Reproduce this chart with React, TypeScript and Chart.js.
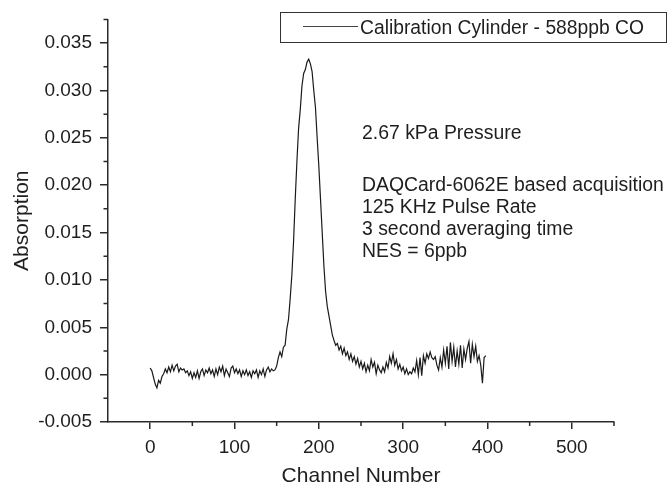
import React, { useEffect, useRef } from "react";
import { Chart, registerables } from "chart.js";

Chart.register(...registerables);

// Absorption values, one every 2 channels (channels 0..398)
const absorption = [
  0.0007, 0.0004, -0.0003, -0.001, -0.0014, -0.0006, -0.0009, -0.0002, 0.0001, 0.0006,
  0.0002, 0.0008, 0.0003, 0.001, 0.0004, 0.0009, 0.0011, 0.0003, 0.0007, 0.0005,
  0.0006, 0.0002, 0.0004, -0.0001, 0.0003, -0.0004, 0.0002, -0.0003, 0.0004, -0.0004,
  0.0003, 0.0006, -0.0001, 0.0005, 0.0002, 0.0007, 0.0001, 0.0005, -0.0002, 0.0006,
  0.0, 0.0008, 0.0003, 0.0009, -0.0001, 0.0006, 0.0002, -0.0002, 0.0007, 0.0009,
  0.0002, 0.0006, 0.0001, 0.0005, -0.0002, 0.0004, 0.0, 0.0005, -0.0001, 0.0003,
  -0.0003, 0.0004, 0.0001, 0.0005, -0.0003, 0.0004, 0.0, 0.0006, -0.0002, 0.0005,
  0.0008, 0.0003, 0.0006, 0.0004, 0.0005, 0.0009, 0.0018, 0.0024, 0.0019, 0.0029,
  0.0031, 0.0048, 0.0058, 0.008, 0.0105, 0.014, 0.0185, 0.0225, 0.026, 0.028,
  0.0305, 0.0318, 0.0322, 0.033, 0.0333, 0.0328, 0.032, 0.03, 0.0282, 0.025,
  0.022, 0.0185, 0.015, 0.0115, 0.0088, 0.0072, 0.0062, 0.0052, 0.0042, 0.0036,
  0.0031, 0.0033, 0.0026, 0.003, 0.0022, 0.0028, 0.002, 0.0024, 0.0016, 0.0022,
  0.0014, 0.0019, 0.0011, 0.0017, 0.0008, 0.0014, 0.0006, 0.0012, 0.0003, 0.001,
  0.0004, 0.0016, 0.0008, 0.0013, 0.0001, 0.001, 0.0005, 0.0002, 0.0008, 0.0003,
  0.0013, 0.0007, 0.0019, 0.0012, 0.0022, 0.001, 0.0016, 0.0006, 0.0011, 0.0004,
  0.0008, 0.0001, 0.0006, 0.0, 0.0003, 0.0001, 0.0007, 0.0003, 0.0015, 0.0,
  0.0018, -0.0001, 0.002, 0.0012, 0.0022, 0.0017, 0.0024, 0.0018, 0.0016, 0.0019,
  0.001, 0.0005, 0.0018, 0.0008, 0.0026, 0.0012, 0.003, 0.0006, 0.0034, 0.0014,
  0.0029, 0.0008, 0.0025, 0.0011, 0.0031, 0.0007, 0.0027, 0.0016, 0.0028, 0.0035,
  0.0012, 0.0032, 0.0019, 0.003, 0.0014, 0.002, 0.001, -0.0009, 0.0018, 0.002,
];
const channelStep = 2;
const channels = absorption.map((_, i) => i * channelStep);

const xMajorTicks = [0, 100, 200, 300, 400, 500];
const xMinorTicks = [50, 150, 250, 350, 450, 550];
const yMajorTicks = [-0.005, 0, 0.005, 0.01, 0.015, 0.02, 0.025, 0.03, 0.035];
const yMinorTicks = [-0.0025, 0.0025, 0.0075, 0.0125, 0.0175, 0.0225, 0.0275, 0.0325, 0.0375];

const seriesLabel = "Calibration Cylinder - 588ppb CO";
const annotationHeader = "2.67 kPa Pressure";
const annotationLines = [
  "DAQCard-6062E based acquisition",
  "125 KHz Pulse Rate",
  "3 second averaging time",
  "NES = 6ppb",
];
const xTitle = "Channel Number";
const yTitle = "Absorption";

const FONT = '"Liberation Sans", Arial, Helvetica, sans-serif';
const INK = "#1e1e1e";
const AXIS = "#2a2a2a";

const extrasPlugin = {
  id: "extras",
  afterDraw(chart: any) {
    const { ctx, scales } = chart;
    const x = scales.x;
    const y = scales.y;
    ctx.save();
    // minor ticks
    ctx.strokeStyle = AXIS;
    ctx.lineWidth = 1.5;
    ctx.beginPath();
    xMinorTicks.forEach((v) => {
      const px = x.getPixelForValue(v);
      ctx.moveTo(px, y.bottom);
      ctx.lineTo(px, y.bottom + 4);
    });
    yMinorTicks.forEach((v) => {
      const py = y.getPixelForValue(v);
      ctx.moveTo(x.left, py);
      ctx.lineTo(x.left - 4.5, py);
    });
    ctx.stroke();

    // legend box
    ctx.lineWidth = 1;
    ctx.strokeStyle = "#333";
    ctx.strokeRect(280.5, 12.5, 386, 30);
    ctx.beginPath();
    ctx.strokeStyle = "#444";
    ctx.moveTo(303, 26.5);
    ctx.lineTo(358, 26.5);
    ctx.stroke();
    ctx.fillStyle = INK;
    ctx.font = `19.3px ${FONT}`;
    ctx.textBaseline = "alphabetic";
    ctx.textAlign = "left";
    ctx.fillText(chart.data.datasets[0].label, 360, 34);

    // annotation text
    ctx.font = `19.4px ${FONT}`;
    ctx.fillText(annotationHeader, 362, 139);
    annotationLines.forEach((line, i) => {
      ctx.fillText(line, 362, 190.5 + i * 22.3);
    });
    ctx.restore();
  },
};

export default function App() {
  const canvasRef = useRef<HTMLCanvasElement | null>(null);

  useEffect(() => {
    if (!canvasRef.current) return;
    const chart = new Chart(canvasRef.current, {
      type: "line",
      data: {
        datasets: [
          {
            label: seriesLabel,
            data: channels.map((c, i) => ({ x: c, y: absorption[i] })),
            borderColor: "#1a1a1a",
            borderWidth: 1.2,
            pointRadius: 0,
            tension: 0,
            fill: false,
          },
        ],
      },
      options: {
        animation: false,
        responsive: false,
        devicePixelRatio: 1,
        layout: { padding: { left: 0, top: 16, right: 53, bottom: 0 } },
        plugins: {
          legend: { display: false },
          tooltip: { enabled: false },
        },
        scales: {
          x: {
            type: "linear",
            min: -50,
            max: 550,
            afterFit: (scale: any) => {
              scale.height = 63;
            },
            afterBuildTicks: (scale: any) => {
              scale.ticks = xMajorTicks.map((v) => ({ value: v }));
            },
            grid: {
              display: true,
              drawOnChartArea: false,
              drawTicks: true,
              tickLength: 7,
              color: AXIS,
              lineWidth: 1.5,
            },
            border: { display: true, color: AXIS, width: 1.5 },
            ticks: {
              color: INK,
              font: { family: FONT, size: 19 },
              padding: 7,
              maxRotation: 0,
              autoSkip: false,
              callback: (v: any) => String(v),
            },
            title: {
              display: true,
              text: xTitle,
              color: INK,
              font: { family: FONT, size: 21, lineHeight: 0.8 },
              padding: { top: 0, bottom: 0 },
            },
          },
          y: {
            type: "linear",
            min: -0.005,
            max: 0.0375,
            afterFit: (scale: any) => {
              scale.width = 108;
            },
            afterBuildTicks: (scale: any) => {
              scale.ticks = yMajorTicks.map((v) => ({ value: v }));
            },
            grid: {
              display: true,
              drawOnChartArea: false,
              drawTicks: true,
              tickLength: 8,
              color: AXIS,
              lineWidth: 1.5,
            },
            border: { display: true, color: AXIS, width: 1.5 },
            ticks: {
              color: INK,
              font: { family: FONT, size: 19 },
              padding: 8,
              autoSkip: false,
              callback: (v: any) => Number(v).toFixed(3),
            },
            title: {
              display: true,
              text: yTitle,
              color: INK,
              font: { family: FONT, size: 21, lineHeight: 0.8 },
              padding: { top: 14, bottom: 0 },
            },
          },
        },
      },
      plugins: [extrasPlugin],
    });
    return () => chart.destroy();
  }, []);

  return (
    <div style={{ position: "absolute", left: 0, top: 0, width: 667, height: 485, background: "#fff" }}>
      <canvas ref={canvasRef} width={667} height={485} />
    </div>
  );
}
